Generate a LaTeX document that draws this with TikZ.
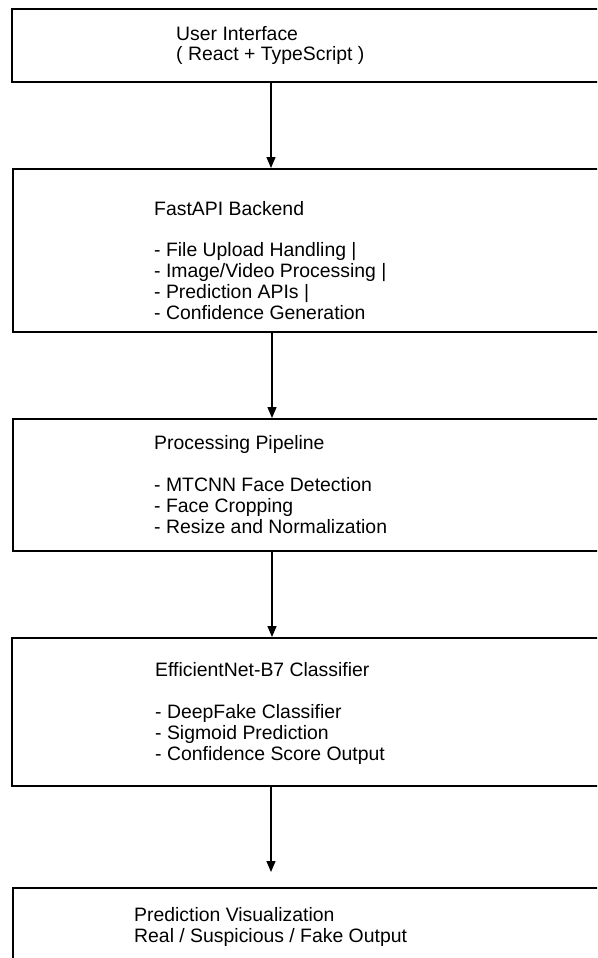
\documentclass[tikz,border=0pt]{standalone}
\usepackage{fontspec}
\setmainfont{Liberation Sans}
\usetikzlibrary{arrows.meta,positioning}

\begin{document}
\begin{tikzpicture}[x=1pt,y=-1pt,
  box/.style={draw,line width=1.6pt,inner sep=0pt,anchor=north west,minimum width=620pt},
  txt/.style={anchor=base west,inner sep=0pt,align=left,font=\fontsize{19.4}{20.8}\selectfont},
  flow/.style={-{Triangle[length=11pt,width=9pt]},line width=1.4pt}]
\useasboundingbox (0,0) rectangle (597,958);
\clip (0,0) rectangle (597,958);
% stages
\node[box,minimum height=73pt] (ui) at (11,8) {};
\node[box,minimum height=163pt] (api) at (12,168) {};
\node[box,minimum height=132pt] (pipe) at (12,418) {};
\node[box,minimum height=148pt] (clf) at (11,637) {};
\node[box,minimum height=100pt] (viz) at (12,887) {};
% labels (base = last line)
\node[txt] (uitext) at (176,61) {User Interface\\( React + TypeScript )};
\node[txt] (apitext) at (154,319) {FastAPI Backend\\[20.8pt]- File Upload Handling |\\- Image/Video Processing |\\- Prediction APIs |\\- Confidence Generation};
\node[txt] (pipetext) at (154,533) {Processing Pipeline\\[20.8pt]- MTCNN Face Detection\\- Face Cropping\\- Resize and Normalization};
\node[txt] (clftext) at (155,760) {EfficientNet-B7 Classifier\\[20.8pt]- DeepFake Classifier\\- Sigmoid Prediction\\- Confidence Score Output};
\node[txt] (viztext) at (134,942) {Prediction Visualization\\Real / Suspicious / Fake Output};
% arrows
\foreach \a/\b in {ui/api,api/pipe,pipe/clf}
  \draw[flow] ([xshift=260pt]\a.south west) -- ([xshift=260pt]\a.south west |- \b.north);
\draw[flow,shorten >=15pt] ([xshift=260pt]clf.south west) -- ([xshift=260pt]clf.south west |- viz.north);
\end{tikzpicture}
\end{document}
